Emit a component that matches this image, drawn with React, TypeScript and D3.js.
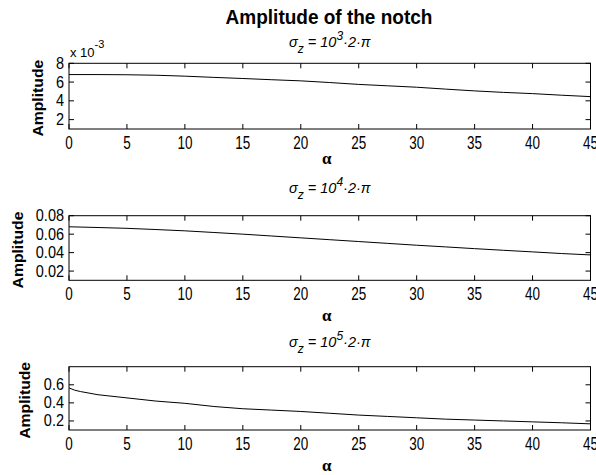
import * as d3 from "d3";
import React from "react";

// alpha grid (degrees)
const alpha = [0, 2.5, 5, 7.5, 10, 12.5, 15, 17.5, 20, 22.5, 25, 27.5, 30, 32.5, 35, 37.5, 40, 42.5, 45];
const alphaFine = [0, 0.5, 1, 2.5, 5, 7.5, 10, 12.5, 15, 17.5, 20, 22.5, 25, 27.5, 30, 32.5, 35, 37.5, 40, 42.5, 45];

// amplitudes, sigma_z = 10^3*2*pi (in units of 1e-3)
const amp3 = [6.8, 6.8, 6.78, 6.73, 6.63, 6.5, 6.38, 6.25, 6.13, 5.95, 5.75, 5.6, 5.45, 5.25, 5.06, 4.9, 4.77, 4.6, 4.45];
// sigma_z = 10^4*2*pi
const amp4 = [0.068, 0.0672, 0.0663, 0.065, 0.0636, 0.0618, 0.06, 0.058, 0.056, 0.054, 0.052, 0.05, 0.048, 0.0462, 0.0443, 0.0425, 0.0408, 0.039, 0.0375];
// sigma_z = 10^5*2*pi
const amp5 = [0.565, 0.54, 0.525, 0.49, 0.455, 0.42, 0.395, 0.36, 0.335, 0.32, 0.305, 0.285, 0.265, 0.25, 0.235, 0.22, 0.21, 0.2, 0.19, 0.18, 0.168];

const xTicks = [0, 5, 10, 15, 20, 25, 30, 35, 40, 45];
const yTicks3 = [2, 4, 6, 8];
const yTicks4 = [0.02, 0.04, 0.06, 0.08];
const yTicks5 = [0.2, 0.4, 0.6];

const exponents = ["3", "4", "5"];

const W = 596, H = 475;
const left = 69, right = 590.5;
const sans = "'Liberation Sans', Arial, Helvetica, sans-serif";

const x = d3.scaleLinear().domain([0, 45]).range([left, right]);

const panels = [
  { xs: alpha, ys: amp3, domain: [1, 8], ticks: yTicks3, fmt: (v) => String(v), top: 63.3, bottom: 129, sub: 46.5, xlab: 159, ylabX: 37.5, exp: exponents[0] },
  { xs: alpha, ys: amp4, domain: [0.01, 0.08], ticks: yTicks4, fmt: (v) => v.toFixed(2), top: 215.7, bottom: 280.3, sub: 193, xlab: 316, ylabX: 17.5, exp: exponents[1] },
  { xs: alphaFine, ys: amp5, domain: [0.1, 0.8], ticks: yTicks5, fmt: (v) => v.toFixed(1), top: 366.7, bottom: 430, sub: 346.5, xlab: 466, ylabX: 25, exp: exponents[2] },
];

const TICK = 5;

const Panel = ({ p }) => {
  const y = d3.scaleLinear().domain(p.domain).range([p.bottom, p.top]);
  const line = d3.line<number>()
    .x((_v, i) => x(p.xs[i]))
    .y((v) => y(v))(p.ys);
  const cx = (left + right) / 2;
  return (
    <g>
      <path d={line || ""} fill="none" stroke="#000" strokeWidth={1} />
      <rect x={left} y={p.top} width={right - left} height={p.bottom - p.top} fill="none" stroke="#000" strokeWidth={1} />
      {xTicks.map((t) => (
        <g key={"x" + t}>
          <line x1={x(t)} x2={x(t)} y1={p.bottom} y2={p.bottom - TICK} stroke="#000" />
          <line x1={x(t)} x2={x(t)} y1={p.top} y2={p.top + TICK} stroke="#000" />
          <text transform={`translate(${x(t)},${p.bottom + 20}) scale(1,1.3)`} textAnchor="middle" fontSize={13.5} fontFamily={sans}>{t}</text>
        </g>
      ))}
      {p.ticks.map((t) => (
        <g key={"y" + t}>
          <line x1={left} x2={left + TICK} y1={y(t)} y2={y(t)} stroke="#000" />
          <line x1={right} x2={right - TICK} y1={y(t)} y2={y(t)} stroke="#000" />
          <text transform={`translate(${left - 5},${y(t) + 5.5}) scale(1,1.15)`} textAnchor="end" fontSize={14.5} fontFamily={sans}>{p.fmt(t)}</text>
        </g>
      ))}
      <text transform={`translate(${p.ylabX + 5},${(p.top + p.bottom) / 2 + 2}) rotate(-90) scale(1.05,1)`} textAnchor="middle" fontSize={15} fontWeight="bold" fontFamily={sans}>Amplitude</text>
      <text x={cx - 3} y={p.xlab + 5} textAnchor="middle" fontSize={17} fontWeight="bold" fontFamily="'Liberation Serif', 'Times New Roman', serif">α</text>
      <text x={cx} y={p.sub} textAnchor="middle" fontSize={14.5} fontStyle="italic" fontFamily={sans}>
        <tspan>σ</tspan>
        <tspan fontSize={12} dy={6}>z</tspan>
        <tspan dy={-6}> = 10</tspan>
        <tspan fontSize={12} dy={-7}>{p.exp}</tspan>
        <tspan dy={7}>·2·π</tspan>
      </text>
    </g>
  );
};

export default function App() {
  return (
    <svg width={W} height={H} style={{ position: "absolute", left: 0, top: 0, background: "#fff" }}>
      <rect width={W} height={H} fill="#fff" />
      <text transform="translate(329,24) scale(1,1.08)" textAnchor="middle" fontSize={19} fontWeight="bold" fontFamily={sans}>Amplitude of the notch</text>
      <text x={70} y={57} fontSize={13} fontFamily={sans}>
        <tspan>x 10</tspan>
        <tspan fontSize={11} dy={-9}>-3</tspan>
      </text>
      {panels.map((p, i) => <Panel key={i} p={p} />)}
    </svg>
  );
}
